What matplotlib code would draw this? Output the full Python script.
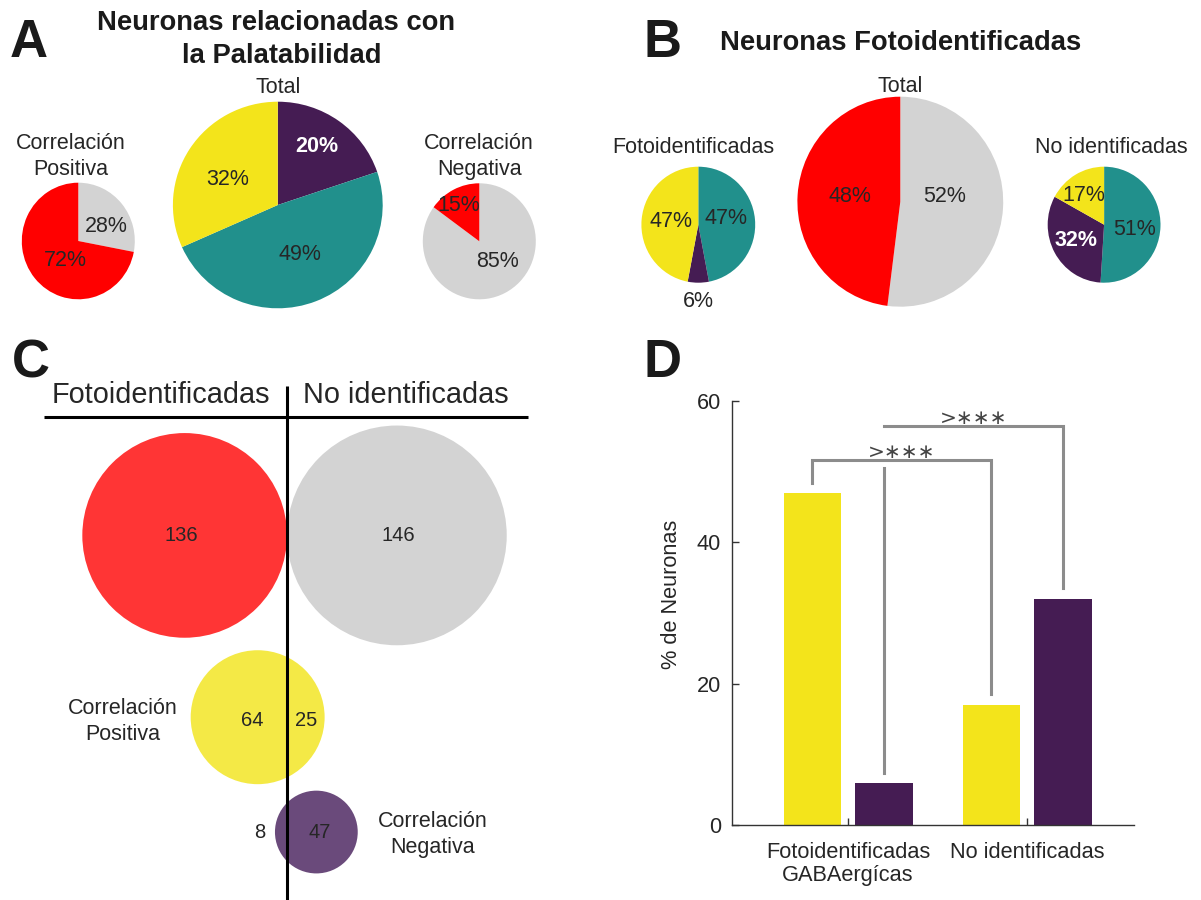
import numpy as np
import matplotlib
matplotlib.use('Agg')
from matplotlib import pyplot as plt
from matplotlib.patches import Circle

plt.rcParams['font.family'] = ['Liberation Sans', 'DejaVu Sans']

W, H = 1201, 900

# colours
red = '#FF0000'
gray = '#D3D3D3'
teal = '#21908C'
purple = '#451C53'
yellow = '#F3E41B'
txt = '#262626'

# panel A: pies (percent as printed)
a_pos = [28, 72]          # no id (gray), foto id (red)
a_total = [20, 49, 32]    # neg, none, pos
a_neg = [85, 15]          # no id (gray), foto id (red)

# panel B: pies
b_foto = [47, 6, 47]      # none, neg, pos
b_total = [52, 48]        # no id, foto id
b_noid = [51, 32, 17]     # none, neg, pos

# panel C: counts
c_groups = ['Fotoidentificadas', 'No identificadas']
c_total = [136, 146]
c_pos = [64, 25]
c_neg = [8, 47]

# panel D: percent of neurons
d_groups = ['Fotoidentificadas\nGABAergícas', 'No identificadas']
d_pos = [47, 17]
d_neg = [6, 32]
d_sig = ['>∗∗∗', '>∗∗∗']

fig = plt.figure(figsize=(W / 100, H / 100), dpi=100)


def ftext(x, y, s, **kw):
    kw.setdefault('color', txt)
    return fig.text(x / W, 1 - y / H, s, **kw)


def pie_ax(cx, cy, rx, ry, sizes, colors, lab_pos, bold=()):
    ax = fig.add_axes([(cx - rx) / W, 1 - (cy + ry) / H, 2 * rx / W, 2 * ry / H])
    ax.pie(sizes, colors=colors, startangle=90, counterclock=False,
           wedgeprops=dict(linewidth=0))
    ax.set_aspect('auto')
    ax.set_xlim(-1, 1)
    ax.set_ylim(-1, 1)
    for i, (v, (ang, r)) in enumerate(zip(sizes, lab_pos)):
        t = np.deg2rad(ang)
        if i in bold:
            ax.text(r * np.cos(t), r * np.sin(t), f'{v}%', ha='center', va='center',
                    fontsize=15.5, color='white', fontweight='bold')
        else:
            ax.text(r * np.cos(t), r * np.sin(t), f'{v}%', ha='center', va='center',
                    fontsize=15.5, color=txt)
    return ax


# ---------------- A ----------------
ftext(10, 56.7, 'A', fontsize=38, fontweight='bold', color='#1a1a1a', va='baseline')
ftext(276.5, 30, 'Neuronas relacionadas con', fontsize=19.7, fontweight='bold',
      ha='center', va='baseline', color='#1a1a1a')
ftext(281.3, 63.3, 'la Palatabilidad', fontsize=19.7, fontweight='bold',
      ha='center', va='baseline', color='#1a1a1a')
ftext(278.4, 93.3, 'Total', fontsize=15.5, ha='center', va='baseline')
ftext(70.8, 175, 'Correlación\nPositiva', fontsize=15.5, ha='center', va='baseline',
      linespacing=1.33)
ftext(479.2, 175, 'Correlación\nNegativa', fontsize=15.5, ha='center', va='baseline',
      linespacing=1.33)

pie_ax(78.3, 241, 56.5, 58.3, a_pos, [gray, red], [(26, 0.56), (-124, 0.40)])
pie_ax(277.8, 205, 104.9, 103.3, a_total, [purple, teal, yellow],
       [(56.6, 0.68), (-66.5, 0.52), (153, 0.54)], bold=(0,))
pie_ax(479.3, 241.3, 56.5, 58, a_neg, [gray, red], [(-47, 0.48), (120, 0.71)])

# ---------------- B ----------------
ftext(644, 56.7, 'B', fontsize=38, fontweight='bold', color='#1a1a1a', va='baseline')
ftext(900.8, 50, 'Neuronas Fotoidentificadas', fontsize=19.7, fontweight='bold',
      ha='center', va='baseline', color='#1a1a1a')
ftext(900.3, 91.7, 'Total', fontsize=15.5, ha='center', va='baseline')
ftext(693.5, 153.3, 'Fotoidentificadas', fontsize=15.5, ha='center', va='baseline')
ftext(1111.7, 153.3, 'No identificadas', fontsize=15.5, ha='center', va='baseline')

pie_ax(698.3, 224.7, 56.9, 58, b_foto, [teal, purple, yellow],
       [(12.7, 0.50), (-90, 1.33), (173.7, 0.475)])
pie_ax(900.3, 201.7, 102.9, 105, b_total, [gray, red], [(6.4, 0.43), (174.3, 0.49)])
pie_ax(1104.1, 224.7, 56.4, 58, b_noid, [teal, purple, yellow],
       [(-8.5, 0.54), (-151, 0.57), (125, 0.62)], bold=(1,))

# ---------------- C ----------------
ftext(11.5, 377.3, 'C', fontsize=38, fontweight='bold', color='#1a1a1a', va='baseline')
axc = fig.add_axes([0, 0, 600 / W, 570 / H])
sc, x0, y0 = 1.505, 287, 535.4
axc.set_xlim(-x0 / sc, (600 - x0) / sc)
axc.set_ylim((y0 - 900) / sc, (y0 - 330) / sc)
axc.axis('off')
row_y = [0, -120.8, -197.1]

c_red = '#FF3535'
c_yellow = '#F4E946'
c_purple = '#6A4A7B'
axc.add_patch(Circle((-c_total[0] / 2, row_y[0]), c_total[0] / 2, color=c_red, lw=0))
axc.add_patch(Circle((c_total[1] / 2, row_y[0]), c_total[1] / 2, color=gray, lw=0))
axc.add_patch(Circle(((c_pos[1] - c_pos[0]) / 2, row_y[1]), sum(c_pos) / 2,
                     color=c_yellow, lw=0))
axc.add_patch(Circle(((c_neg[1] - c_neg[0]) / 2, row_y[2]), sum(c_neg) / 2,
                     color=c_purple, lw=0))
axc.plot([-161.5, 160.2], [78.5, 78.5], color='black', lw=2.2, solid_capstyle='butt')
axc.plot([0, 0], [99.1, -250], color='black', lw=2.2, solid_capstyle='butt')

axc.text(-83.9, 88.2, c_groups[0], fontsize=20.8, ha='center', va='baseline', color=txt)
axc.text(78.9, 88.2, c_groups[1], fontsize=20.8, ha='center', va='baseline', color=txt)
axc.text(-70.2, row_y[0], str(c_total[0]), fontsize=14.5, ha='center', va='center', color=txt)
axc.text(73.8, row_y[0], str(c_total[1]), fontsize=14.5, ha='center', va='center', color=txt)
axc.text(-22.9, row_y[1] - 2, str(c_pos[0]), fontsize=14.5, ha='center', va='center', color=txt)
axc.text(12.7, row_y[1] - 2, str(c_pos[1]), fontsize=14.5, ha='center', va='center', color=txt)
axc.text(-18.3, row_y[2], str(c_neg[0]), fontsize=14.5, ha='center', va='center', color=txt)
axc.text(21.6, row_y[2], str(c_neg[1]), fontsize=14.5, ha='center', va='center', color=txt)
axc.text(-109.3, row_y[1] - 3, 'Correlación\nPositiva', fontsize=15.5, ha='center',
         va='center', linespacing=1.3, color=txt)
axc.text(96.7, row_y[2] - 1.5, 'Correlación\nNegativa', fontsize=15.5, ha='center',
         va='center', linespacing=1.3, color=txt)

# ---------------- D ----------------
ftext(643.5, 377.3, 'D', fontsize=38, fontweight='bold', color='#1a1a1a', va='baseline')
axd = fig.add_axes([732.3 / W, 1 - 825.1 / H, 402.2 / W, 424.2 / H])
x = np.arange(len(d_groups))
axd.bar(x - 0.2, d_pos, 0.32, color=yellow)
axd.bar(x + 0.2, d_neg, 0.32, color=purple)
axd.set_xlim(-0.647, 1.6)
axd.set_ylim(0, 60)
axd.set_yticks([0, 20, 40, 60])
axd.set_xticks(x)
axd.set_xticklabels(d_groups, fontsize=15.7, color=txt, linespacing=1.15)
axd.tick_params(axis='y', labelsize=15.7, labelcolor=txt)
axd.tick_params(direction='in', length=5, width=1, color='#333333')
axd.tick_params(axis='x', pad=12)
axd.tick_params(axis='y', pad=8)
for s in ['top', 'right']:
    axd.spines[s].set_visible(False)
for s in ['left', 'bottom']:
    axd.spines[s].set_color('#333333')
    axd.spines[s].set_linewidth(1)
axd.set_ylabel('% de Neuronas', fontsize=15.7, color=txt)
axd.yaxis.set_label_coords(-0.125, 0.5436)

bc = '#8C8C8C'
# yellow vs yellow
top1 = 51.7
axd.plot([x[0] - 0.2, x[0] - 0.2, x[1] - 0.2, x[1] - 0.2],
         [d_pos[0] + 1.4, top1, top1, d_pos[1] + 1.5], color=bc, lw=2.2,
         solid_joinstyle='miter')
# purple vs purple
top2 = 56.5
axd.plot([x[0] + 0.2, x[0] + 0.2], [d_neg[0] + 1.3, 50.5], color=bc, lw=2.2)
axd.plot([x[0] + 0.2, x[1] + 0.2, x[1] + 0.2], [top2, top2, d_neg[1] + 1.5],
         color=bc, lw=2.2, solid_joinstyle='miter', clip_on=False)
axd.text(x[0] + 0.3, top1 - 0.35, d_sig[0], ha='center', va='bottom', fontsize=14.5,
         color='#444444', family='DejaVu Sans', clip_on=False)
axd.text(x[0] + 0.7, top2 - 0.35, d_sig[1], ha='center', va='bottom', fontsize=14.5,
         color='#444444', family='DejaVu Sans', clip_on=False)

fig.savefig('out.png', dpi=100)
